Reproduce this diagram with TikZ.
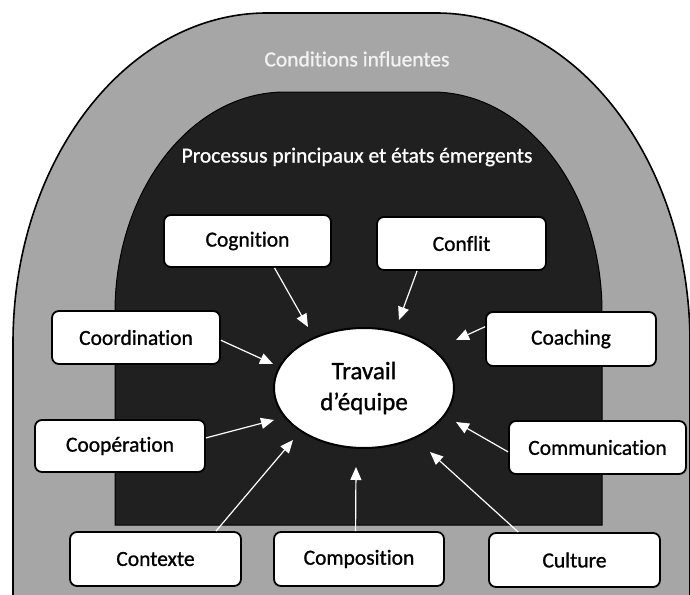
\documentclass[tikz,border=0pt]{standalone}
\usepackage{fontspec}
\setmainfont{Carlito}[Ligatures=NoCommon,FakeBold=1.0]
\usetikzlibrary{shapes.geometric,arrows.meta,calc}
\definecolor{archgray}{HTML}{A6A6A6}
\definecolor{innerblk}{HTML}{202020}
\definecolor{titlegray}{HTML}{F2F2F2}
\begin{document}
\begin{tikzpicture}[x=1pt,y=-1pt,
  box/.style={draw=black, line width=1.8pt, fill=white, rounded corners=7pt, inner sep=0pt,
    font=\fontsize{21.5}{25}\selectfont, text=black},
  arr/.style={draw=white, line width=1.2pt, -{Triangle[length=13pt,width=11pt,fill=white]}},
  title/.style={font=\fontsize{21.5}{25}\selectfont, inner sep=0pt}
  ]
\useasboundingbox (0,0) rectangle (690,594);
\clip (0,0) rectangle (690,594);
\fill[white] (0,0) rectangle (690,594);
% outer arch
\filldraw[fill=archgray, draw=black, line width=1.6pt]
  (13,600) -- (13,343) .. controls (13,160.7) and (126.7,13) .. (267,13)
  -- (436,13) .. controls (576.3,13) and (690,160.7) .. (690,343) -- (690,600);
% inner arch
\filldraw[fill=innerblk, draw=black, line width=1pt]
  (115,525) -- (115,312) .. controls (115,190.5) and (191.1,92) .. (285,92)
  -- (432,92) .. controls (525.9,92) and (602,190.5) .. (602,312) -- (602,525) -- cycle;
% titles
\node[title, text=titlegray] (t1) at (357,59) {Conditions influentes};
\node[title, text=white] (t2) at (357,157) {Processus principaux et états émergents};
% centre
\node[ellipse, draw=black, line width=2pt, fill=white, minimum width=180pt, minimum height=120pt,
  align=center, font=\fontsize{25}{31}\selectfont, inner sep=0pt] (tw) at (364,388) {Travail\\d’équipe};
% boxes
\node[box, minimum width=167pt, minimum height=52pt] (cog) at (247.5,241) {Cognition};
\node[box, minimum width=169pt, minimum height=53pt] (conf) at (461.5,243.5) {Conflit};
\node[box, minimum width=168pt, minimum height=53pt] (coord) at (136,337.5) {Coordination};
\node[box, minimum width=170pt, minimum height=54pt] (coach) at (571,339) {Coaching};
\node[box, minimum width=170pt, minimum height=52pt] (coop) at (120,446) {Coopération};
\node[box, minimum width=177pt, minimum height=53pt] (comm) at (597.5,447.5) {Communication};
\node[box, minimum width=171pt, minimum height=54pt] (ctx) at (155.5,559) {Contexte};
\node[box, minimum width=170pt, minimum height=54pt] (compo) at (359,559) {Composition};
\node[box, minimum width=171pt, minimum height=54pt] (cult) at (574.5,560) {Culture};
% arrow tips near the centre
\coordinate (tCog) at (308,327);
\coordinate (tConf) at (399,320);
\coordinate (tCoord) at (273,364);
\coordinate (tCoach) at (456,340);
\coordinate (tCoop) at (274,420);
\coordinate (tComm) at (456,422);
\coordinate (tCtx) at (293,440);
\coordinate (tCompo) at (356,467);
\coordinate (tCult) at (430,452);
% arrows
\draw[arr] ($(cog.south west)!0.66!(cog.south east)$) -- (tCog);
\draw[arr] ($(conf.south west)!0.24!(conf.south east)$) -- (tConf);
\draw[arr] ($(coord.north east)!0.55!(coord.south east)$) -- (tCoord);
\draw[arr] ($(coach.north west)!0.28!(coach.south west)$) -- (tCoach);
\draw[arr] ($(coop.north east)!0.35!(coop.south east)$) -- (tCoop);
\draw[arr] ($(comm.north west)!0.58!(comm.south west)$) -- (tComm);
\draw[arr] ($(ctx.north west)!0.85!(ctx.north east)$) -- (tCtx);
\draw[arr] ($(compo.north west)!0.48!(compo.north east)$) -- (tCompo);
\draw[arr] ($(cult.north west)!0.175!(cult.north east)$) -- (tCult);
\end{tikzpicture}
\end{document}
